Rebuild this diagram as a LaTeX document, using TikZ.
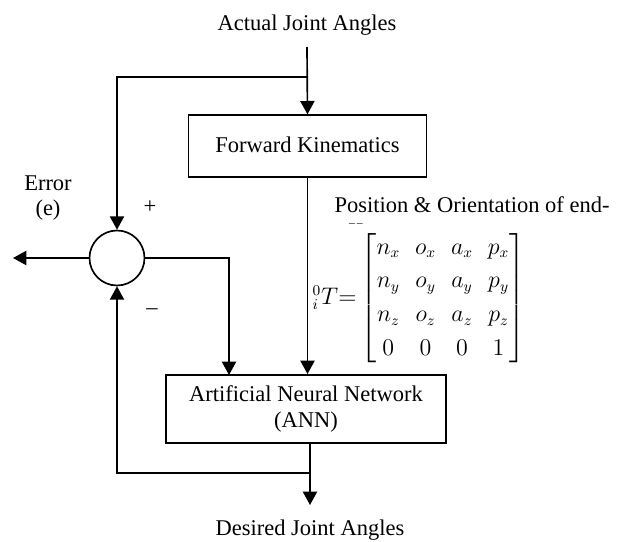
\documentclass[tikz,border=0pt]{standalone}
\usepackage{fontspec}
\setmainfont{Liberation Serif}
\usepackage{amsmath}
\usetikzlibrary{arrows.meta,positioning}

\begin{document}
\begin{tikzpicture}[
    x=0.6pt, y=-0.6pt,
    block/.style={rectangle, draw, line width=1pt, inner sep=0pt, align=center},
    flow/.style={line width=1pt, -{Triangle[length=8pt,width=8.5pt]}},
    label/.style={font=\fontsize{13.5}{15.5}\selectfont, align=center}
]
\useasboundingbox (0,0) rectangle (619,542);

% Input
\node[label] (actual) at (307,25) {Actual Joint Angles};
\coordinate (split) at (307,77);

% Forward kinematics
\node[block, minimum width=143pt, minimum height=37pt, label] (fk) at (307.5,146) {\raisebox{2pt}{Forward Kinematics}};

% Summing junction
\node[circle, draw, line width=1pt, minimum size=33pt, inner sep=0pt] (sum) at (117,258) {};
\node[label] at (150,207) {+};
\node[label] at (152,312) {--};
\node[label] (error) at (48,198) {Error\\(e)};
\coordinate (out) at (13,258);

% ANN
\node[block, minimum width=168pt, minimum height=41pt, label] (ann) at (306,409) {Artificial Neural Network\\(ANN)};
\coordinate (ret) at (310,473);
\coordinate (desired end) at (310,505);
\node[label] (desired) at (310,530) {Desired Joint Angles};

% Transformation matrix
\node[label, inner sep=0pt] (pos) at (472,205) {Position \& Orientation of end-};
\node[font=\fontsize{7}{7}\selectfont, inner sep=0pt] at (356,225) {--\,--};
\node[label, inner sep=0pt] (mat) at (419,298) {%
  \renewcommand{\arraystretch}{1.3}\setlength{\arraycolsep}{4.5pt}%
  $ {}^{0}_{i}T{=}\begin{bmatrix}
    n_x & o_x & a_x & p_x\\
    n_y & o_y & a_y & p_y\\
    n_z & o_z & a_z & p_z\\
    0 & 0 & 0 & 1
  \end{bmatrix}$};

% Connections
\draw[flow] (actual.south |- 0,47) -- (fk.north);
\draw[flow] (split) -| (sum.north);
\draw[flow] (fk.south) -- (fk.south |- ann.north);
\draw[flow] (sum.east) -| (229,375);
\draw[flow] (sum.west) -- (out);
\draw[flow] (310,443) -- (desired end);
\draw[flow] (ret) -| (sum.south);

\end{tikzpicture}
\end{document}
